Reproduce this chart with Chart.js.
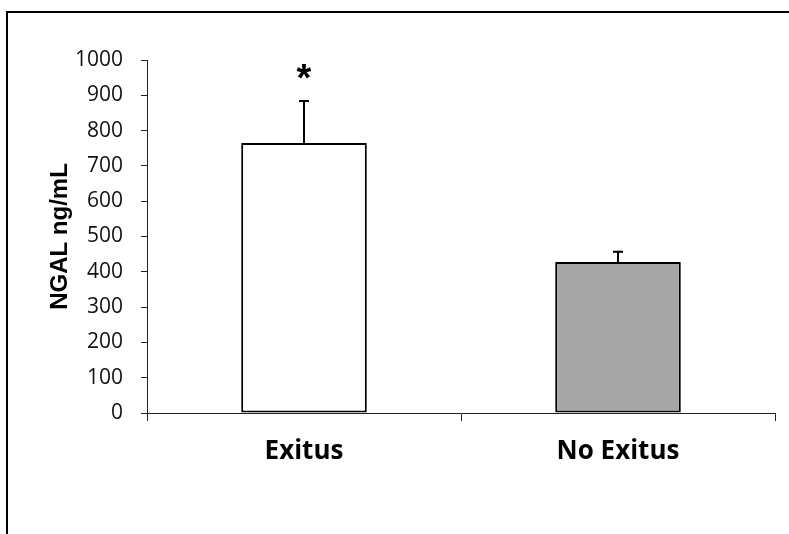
<!DOCTYPE html>
<html>
<head>
<meta charset="utf-8">
<script src="https://cdn.jsdelivr.net/npm/chart.js@4.4.1/dist/chart.umd.min.js"></script>
<style>
  html, body { margin: 0; padding: 0; background: #fff; }
  #wrap { position: relative; width: 789px; height: 534px; }
</style>
</head>
<body>
<div id="wrap"><canvas id="c" width="789" height="534"></canvas></div>
<script>
// NGAL concentration by outcome group
const categories = ['Exitus', 'No Exitus'];
const meanValues = [765, 428];
const errorValues = [119, 29];
const barColors = ['#ffffff', '#a6a6a6'];
const significance = ['*', ''];
const yTicks = [0, 100, 200, 300, 400, 500, 600, 700, 800, 900, 1000];

// outer frame (top and left rules)
const framePlugin = {
  id: 'frame',
  beforeDraw(chart) {
    const ctx = chart.ctx;
    ctx.save();
    ctx.fillStyle = '#fff';
    ctx.fillRect(0, 0, chart.width, chart.height);
    ctx.strokeStyle = '#000';
    ctx.lineWidth = 2;
    ctx.beginPath();
    ctx.moveTo(7, chart.height);
    ctx.lineTo(7, 12);
    ctx.lineTo(chart.width, 12);
    ctx.stroke();
    ctx.restore();
  }
};

// upward error bars with caps, plus significance markers
const errorBarPlugin = {
  id: 'errorBars',
  afterDatasetsDraw(chart) {
    const ctx = chart.ctx;
    const meta = chart.getDatasetMeta(0);
    const y = chart.scales.y;
    ctx.save();
    ctx.strokeStyle = '#000';
    ctx.lineWidth = 2;
    meta.data.forEach((bar, i) => {
      const x = bar.x;
      const yMean = y.getPixelForValue(meanValues[i]);
      const yTop = y.getPixelForValue(meanValues[i] + errorValues[i]);
      ctx.beginPath();
      ctx.moveTo(x, yMean);
      ctx.lineTo(x, yTop);
      ctx.moveTo(x - 5, yTop);
      ctx.lineTo(x + 5, yTop);
      ctx.stroke();
      if (significance[i]) {
        ctx.fillStyle = '#000';
        ctx.font = 'bold 38px "Liberation Sans", Arial, sans-serif';
        ctx.textAlign = 'center';
        ctx.textBaseline = 'alphabetic';
        ctx.fillText(significance[i], x, yTop - 10);
      }
    });
    ctx.restore();
  }
};

new Chart(document.getElementById('c'), {
  type: 'bar',
  data: {
    labels: categories,
    datasets: [{
      data: meanValues,
      backgroundColor: barColors,
      borderColor: '#000',
      borderWidth: 2,
      borderSkipped: false,
      barPercentage: 0.4,
      categoryPercentage: 1.0
    }]
  },
  options: {
    responsive: false,
    animation: false,
    events: [],
    layout: { padding: { top: 60, right: 14, bottom: 0, left: 0 } },
    plugins: {
      legend: { display: false },
      tooltip: { enabled: false }
    },
    scales: {
      x: {
        grid: {
          offset: true,
          drawOnChartArea: false,
          drawTicks: true,
          tickLength: 8,
          color: '#222',
          lineWidth: 1
        },
        border: { color: '#222', width: 1 },
        ticks: {
          color: '#000',
          padding: 15,
          font: { family: '"Open Sans", sans-serif', size: 26, weight: 'bold' }
        },
        afterFit(scale) { scale.height = 121; }
      },
      y: {
        min: 0,
        max: 1000,
        afterBuildTicks(scale) { scale.ticks = yTicks.map(v => ({ value: v })); },
        grid: {
          drawOnChartArea: false,
          drawTicks: true,
          tickLength: 6,
          color: '#222',
          lineWidth: 1
        },
        border: { color: '#222', width: 1 },
        ticks: {
          color: '#111',
          padding: 18,
          callback: (v) => String(v),
          font: { family: '"Open Sans", sans-serif', size: 21 }
        },
        title: {
          display: true,
          text: 'NGAL ng/mL',
          color: '#000',
          padding: { top: 46, bottom: 0 },
          font: { family: '"Liberation Sans", Arial, sans-serif', size: 24, weight: 'bold' }
        },
        afterFit(scale) { scale.width = 147; }
      }
    }
  },
  plugins: [framePlugin, errorBarPlugin]
});
</script>
</body>
</html>
